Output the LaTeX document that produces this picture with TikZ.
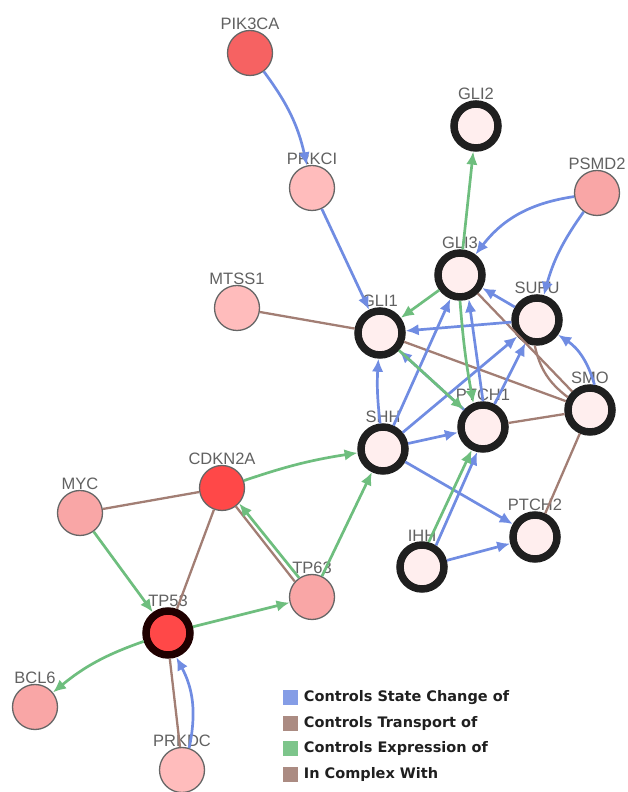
\documentclass[tikz,border=0pt]{standalone}
\usepackage{fontspec}
\setsansfont{Liberation Sans}
\newfontfamily\legendfont{DejaVu Sans}
\usetikzlibrary{arrows.meta}
\usetikzlibrary{positioning}
\definecolor{stateblue}{RGB}{112,140,226}
\definecolor{transbrown}{RGB}{162,126,116}
\definecolor{exprgreen}{RGB}{110,190,126}
\definecolor{lightpink}{RGB}{255,188,188}
\definecolor{midpink}{RGB}{249,166,166}
\definecolor{darkpink}{RGB}{246,98,98}
\definecolor{redgene}{RGB}{255,72,72}
\definecolor{ringfill}{RGB}{255,238,238}
\begin{document}
\begin{tikzpicture}[x=1pt,y=1pt,>={Latex[length=13pt,width=11.5pt]},
	lbl/.style={font=\sffamily\fontsize{16.5}{18}\selectfont,
				text=black!62,
				inner sep=0pt},
	gene/.style={draw=black!60,
				circle,
				line width=1.3pt,
				minimum size=45pt,
				inner sep=0pt,
				label distance=4pt},
	seed/.style={draw=black!88,
				circle,
				line width=7.5pt,
				fill=ringfill,
				minimum size=44pt,
				inner sep=0pt,
				label distance=0pt},
	st/.style={draw=stateblue, line width=2.7pt, ->},
	tr/.style={draw=transbrown, line width=2.3pt},
	ex/.style={draw=exprgreen, line width=2.7pt, ->},
	key/.style={rectangle, minimum size=15pt, inner sep=0pt},
	keytext/.style={font=\legendfont\bfseries\fontsize{14.5}{16}\selectfont,
				text=black!88,
				inner sep=0pt}]
	\useasboundingbox (0,0) rectangle (627,792);

	\node[gene,fill=darkpink,label={[lbl]90:PIK3CA}] (PIK3CA) at (250,739) {};
	\node[gene,fill=lightpink,label={[lbl]90:PRKCI}] (PRKCI) at (312,604) {};
	\node[seed,label={[lbl]90:GLI2}] (GLI2) at (476,666) {};
	\node[gene,fill=midpink,label={[lbl]90:PSMD2}] (PSMD2) at (597,599) {};
	\node[gene,fill=lightpink,label={[lbl]90:MTSS1}] (MTSS1) at (237,484) {};
	\node[seed,label={[lbl]90:GLI3}] (GLI3) at (460,517) {};
	\node[seed,label={[lbl]90:SUFU}] (SUFU) at (537,472) {};
	\node[seed,label={[lbl]90:GLI1}] (GLI1) at (380,459) {};
	\node[seed,label={[lbl]90:SMO}] (SMO) at (590,382) {};
	\node[seed,label={[lbl]90:PTCH1}] (PTCH1) at (483,365) {};
	\node[seed,label={[lbl]90:SHH}] (SHH) at (383,343) {};
	\node[seed,label={[lbl]90:PTCH2}] (PTCH2) at (535,255) {};
	\node[seed,label={[lbl]90:IHH}] (IHH) at (422,225) {};
	\node[gene,fill=midpink,label={[lbl]90:MYC}] (MYC) at (80,279) {};
	\node[gene,fill=redgene,label={[lbl]90:CDKN2A}] (CDKN2A) at (222,304) {};
	\node[gene,fill=midpink,label={[lbl]90:TP63}] (TP63) at (312,195) {};
	\node[seed,fill=redgene,draw=black!80!red!60!black,label={[lbl]90:TP53}] (TP53) at (168,159) {};
	\node[gene,fill=midpink,label={[lbl]90:BCL6}] (BCL6) at (35,85) {};
	\node[gene,fill=lightpink,label={[lbl]90:PRKDC}] (PRKDC) at (182,22) {};

	% in complex / transport
	\draw[tr] (MTSS1)--(GLI1);
	\draw[tr] (GLI1)--(SMO);
	\draw[tr] (GLI3)--(SMO);
	\draw[tr] (SUFU.-95) to[bend right=20] (SMO.150);
	\draw[tr] (PTCH1)--(SMO);
	\draw[tr] (SMO)--(PTCH2);
	\draw[tr] (MYC)--(CDKN2A);
	\draw[tr] (CDKN2A)--(TP53);
	\draw[tr] (CDKN2A.-53)--(TP63.138);
	\draw[tr] (PRKDC.95)--(TP53.-86);

	% state change
	\draw[st] (PIK3CA) to[bend left=12] (PRKCI);
	\draw[st] (PRKCI)--(GLI1);
	\draw[st] (PSMD2) to[bend right=22] (GLI3);
	\draw[st] (PSMD2) to[bend right=10] (SUFU);
	\draw[st] (SUFU)--(GLI3);
	\draw[st] (SUFU)--(GLI1);
	\draw[st] (SMO.80) to[bend right=20] (SUFU.-35);
	\draw[st] (SHH) to[bend left=5] (GLI1);
	\draw[st] (SHH)--(GLI3.-112);
	\draw[st] (SHH)--(SUFU);
	\draw[st] (SHH)--(PTCH1);
	\draw[st] (SHH)--(PTCH2);
	\draw[st] (PTCH1)--(GLI1);
	\draw[st] (PTCH1.90)--(GLI3.-70);
	\draw[st] (PTCH1)--(SUFU);
	\draw[st] (IHH.57)--(PTCH1.-103);
	\draw[st] (IHH)--(PTCH2);
	\draw[st] (PRKDC.72) to[bend right=20] (TP53.-71);

	% expression
	\draw[ex] (GLI3)--(GLI2);
	\draw[ex] (GLI3)--(GLI1);
	\draw[ex] (GLI1)--(PTCH1);
	\draw[ex] (GLI3.-90) to[bend right=3] (PTCH1.112);
	\draw[ex] (IHH.75)--(PTCH1.-116);
	\draw[ex] (CDKN2A) to[bend left=5] (SHH);
	\draw[ex] (TP63)--(SHH);
	\draw[ex] (TP63.124)--(CDKN2A.-42);
	\draw[ex] (MYC)--(TP53);
	\draw[ex] (TP53)--(TP63);
	\draw[ex] (TP53) to[bend right=10] (BCL6);

	% legend
	\node[key,fill=stateblue!85!white] (k1) at (290,94) {};
	\node[key,fill=transbrown!90!white,below=10pt of k1] (k2) {};
	\node[key,fill=exprgreen!90!white,below=10pt of k2] (k3) {};
	\node[key,fill=transbrown!90!white,below=10pt of k3] (k4) {};
	\node[keytext,right=6pt of k1] (t1) {Controls State Change of};
	\node[keytext,right=6pt of k2] (t2) {Controls Transport of};
	\node[keytext,right=6pt of k3] (t3) {Controls Expression of};
	\node[keytext,right=6pt of k4] (t4) {In Complex With};
\end{tikzpicture}
\end{document}
